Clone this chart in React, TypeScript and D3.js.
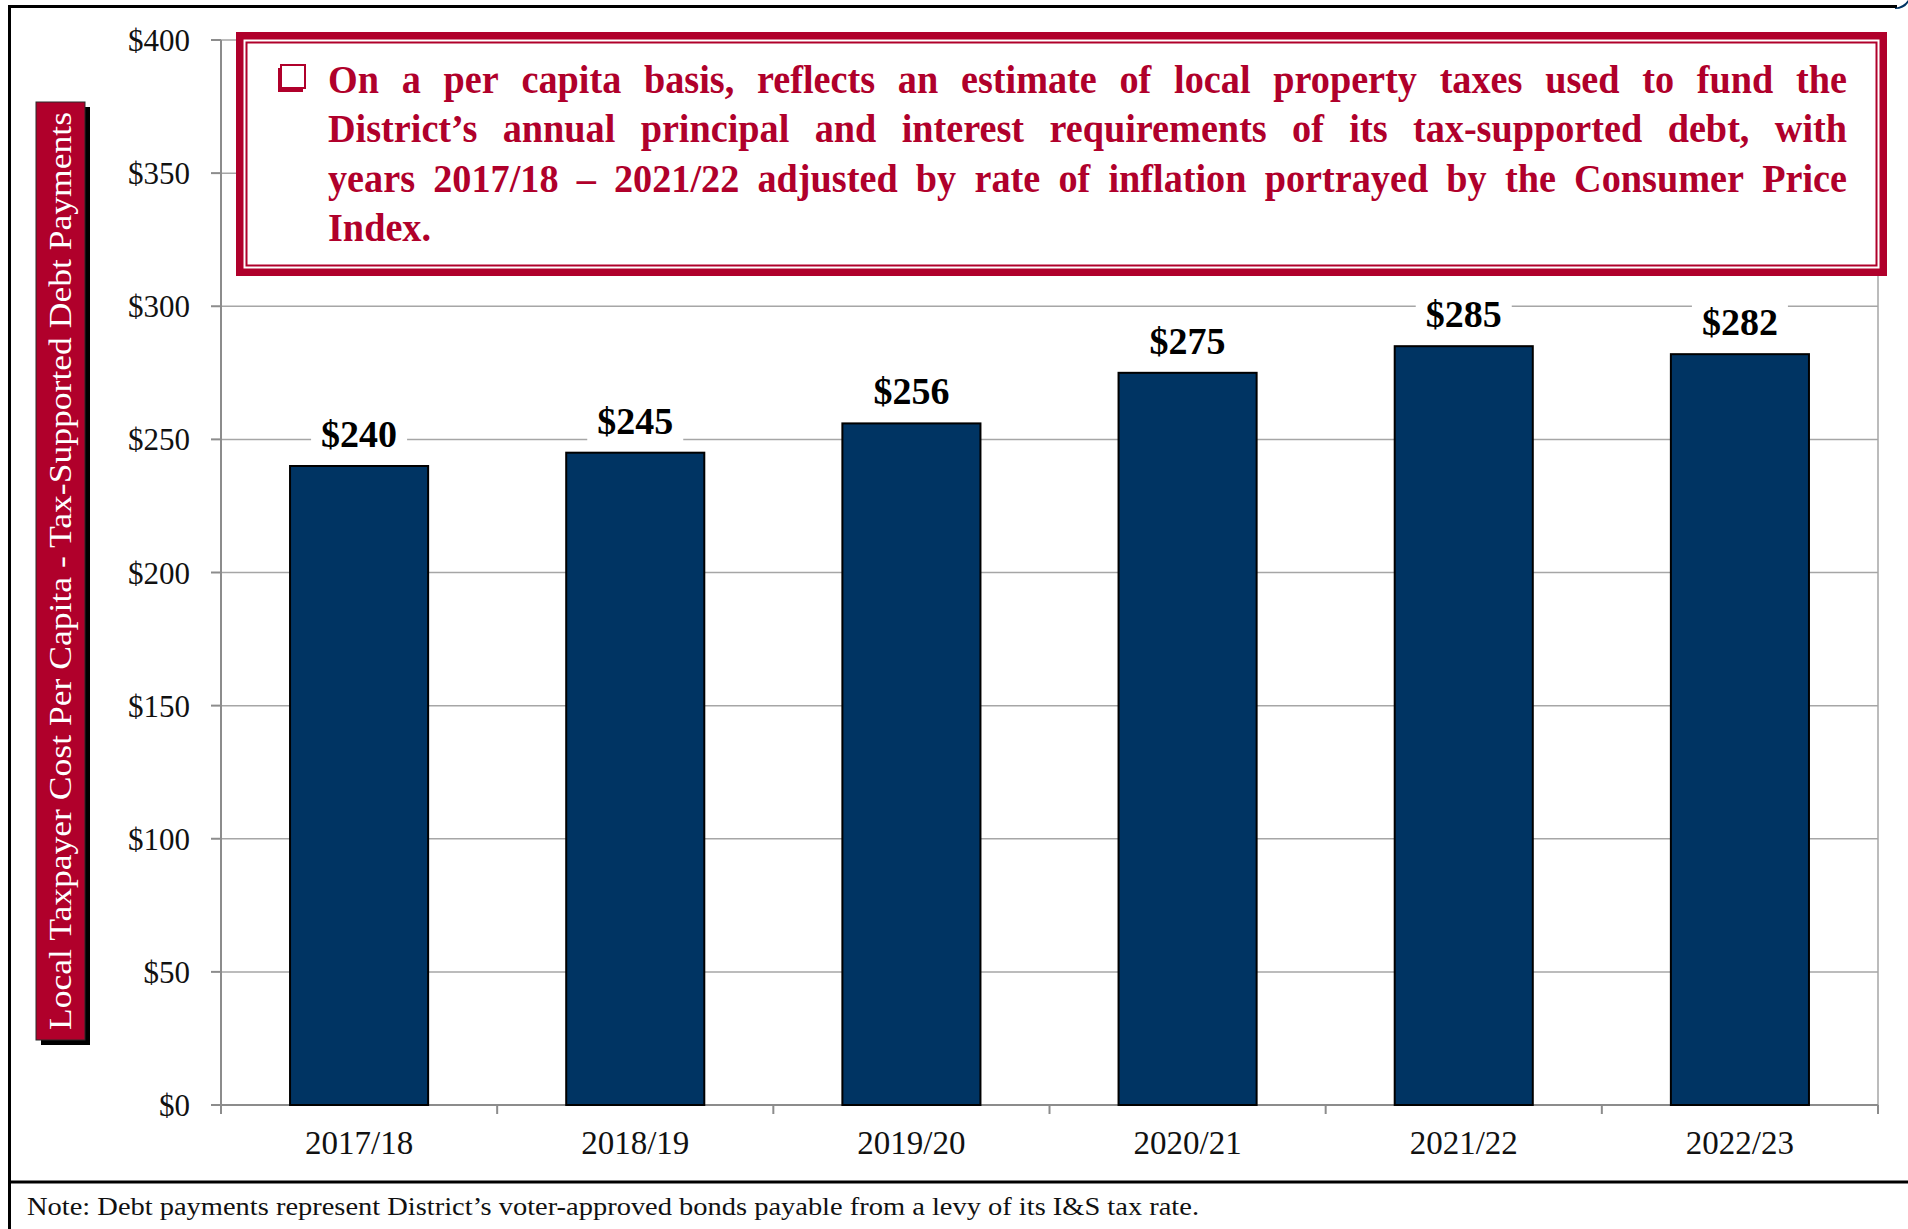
import React, { useMemo } from "react";
import * as d3 from "d3";

// chart values
const years = ["2017/18", "2018/19", "2019/20", "2020/21", "2021/22", "2022/23"];
const perCapita = [240, 245, 256, 275, 285, 282];
const yTicks = [0, 50, 100, 150, 200, 250, 300, 350, 400];

const noteLines = [
  "On a per capita basis, reflects an estimate of local property taxes used to fund the",
  "District\u2019s annual principal and interest requirements of its tax-supported debt, with",
  "years 2017/18 \u2013 2021/22 adjusted by rate of inflation portrayed by the Consumer Price",
  "Index.",
];
const yTitle = "Local Taxpayer Cost Per Capita - Tax-Supported Debt Payments";
const footNote =
  "Note: Debt payments represent District\u2019s voter-approved bonds payable from a levy of its I&S tax rate.";

const W = 1908;
const H = 1229;
const RED = "#B0002B";
const NAVY = "#003463";
const GRID = "#A6A6A6";
const SERIF = "'Liberation Serif', 'Times New Roman', serif";

// plot bounds
const left = 221, right = 1878, top = 40, bottom = 1105;

function measure(txt: string, font: string) {
  const ctx = document.createElement("canvas").getContext("2d");
  if (!ctx) return txt.length * 10;
  ctx.font = font;
  return ctx.measureText(txt).width;
}

export default function App() {
  const x = d3.scaleBand<string>()
    .domain(years)
    .range([left, right])
    .paddingInner(0.5)
    .paddingOuter(0.25);
  const y = d3.scaleLinear().domain([0, 400]).range([bottom, top]);
  const step = x.step();
  const bounds = d3.range(years.length + 1).map((i) => left + i * step);

  // justified text in the red box; glyphs squeezed slightly
  const textLeft = 328, textRight = 1847;
  const avail = textRight - textLeft;
  const fs = 39;
  const justified = useMemo(() => {
    const f = `bold ${fs}px ${SERIF}`;
    const natural = noteLines.slice(0, 3).map((ln) => {
      const ws = ln.split(" ");
      return d3.sum(ws, (w) => measure(w, f)) + (ws.length - 1) * fs * 0.3;
    });
    const k = Math.min(0.98, avail / (d3.max(natural) ?? avail));
    const rows = noteLines.map((ln, i) => {
      const ws = ln.split(" ");
      const widths = ws.map((w) => measure(w, f) * k);
      const last = i === noteLines.length - 1;
      const gap = last ? fs * 0.25 : (avail - d3.sum(widths)) / (ws.length - 1);
      let cx = textLeft;
      return ws.map((w, j) => {
        const pos = cx;
        cx += widths[j] + gap;
        return { w, pos, len: widths[j] };
      });
    });
    return rows;
  }, []);

  const baselines = [93, 142, 192, 241];

  return (
    <div style={{ position: "absolute", left: 0, top: 0 }}>
      <svg width={W} height={H} style={{ display: "block", background: "#fff" }}>
        {/* outer frame */}
        <line x1={9.5} x2={9.5} y1={5} y2={H} stroke="#000" strokeWidth={3} />
        <line x1={8} x2={1897} y1={6.5} y2={6.5} stroke="#000" strokeWidth={3} />
        <path d="M1895,8 Q1904,6 1908,0 L1908,3 Q1904,9 1895,9 Z" fill={NAVY} />
        <line x1={8} x2={W} y1={1182} y2={1182} stroke="#000" strokeWidth={3} />

        {/* gridlines */}
        {yTicks.map((t) => (
          <line key={"g" + t} x1={left} x2={right} y1={y(t)} y2={y(t)} stroke={GRID} strokeWidth={1.5} />
        ))}
        <line x1={right} x2={right} y1={top} y2={bottom + 9} stroke={GRID} strokeWidth={1.5} />

        {/* y axis */}
        <line x1={left} x2={left} y1={top} y2={bottom + 9} stroke="#8C8C8C" strokeWidth={2} />
        {yTicks.map((t) => (
          <g key={"t" + t}>
            <line x1={left - 10} x2={left} y1={y(t)} y2={y(t)} stroke="#8C8C8C" strokeWidth={2} />
            <text x={190} y={y(t) + 11} textAnchor="end" fontFamily={SERIF} fontSize={31} fill="#111">
              {"$" + t}
            </text>
          </g>
        ))}

        {/* x axis */}
        <line x1={left} x2={right} y1={bottom} y2={bottom} stroke="#8C8C8C" strokeWidth={2} />
        {bounds.map((b, i) => (
          <line key={"xt" + i} x1={b} x2={b} y1={bottom} y2={bottom + 9} stroke="#8C8C8C" strokeWidth={2} />
        ))}
        {years.map((c) => (
          <text key={"c" + c} x={(x(c) ?? 0) + x.bandwidth() / 2} y={1154} textAnchor="middle"
            fontFamily={SERIF} fontSize={33} fill="#111">
            {c}
          </text>
        ))}

        {/* bars */}
        {years.map((c, i) => (
          <rect key={"b" + c} x={x(c)} y={y(perCapita[i])} width={x.bandwidth()}
            height={y(0) - y(perCapita[i])} fill={NAVY} stroke="#000" strokeWidth={2} />
        ))}

        {/* value labels */}
        {years.map((c, i) => {
          const cx = (x(c) ?? 0) + x.bandwidth() / 2;
          const by = y(perCapita[i]) - 19;
          return (
            <g key={"l" + c}>
              <rect x={cx - 48} y={by - 33} width={96} height={41} fill="#fff" />
              <text x={cx} y={by} textAnchor="middle" fontFamily={SERIF} fontWeight="bold"
                fontSize={38} fill="#000">
                {"$" + perCapita[i]}
              </text>
            </g>
          );
        })}

        {/* red note box */}
        <rect x={239.75} y={35.75} width={1643.5} height={236.5} fill="#fff" stroke={RED} strokeWidth={7.5} />
        <rect x={246.5} y={42.5} width={1630} height={223} fill="none" stroke={RED} strokeWidth={2} />
        <rect x={278} y={68} width={25} height={24} fill={RED} />
        <rect x={281} y={65} width={24} height={23} fill="#fff" stroke={RED} strokeWidth={2} />
        {justified.map((row, i) =>
          row.map((wd, j) => (
            <text key={`n${i}-${j}`} x={wd.pos} y={baselines[i]} fontFamily={SERIF} fontWeight="bold"
              fontSize={fs} fill={RED} textLength={wd.len} lengthAdjust="spacingAndGlyphs">
              {wd.w}
            </text>
          ))
        )}

        {/* y title box */}
        <rect x={41} y={107} width={49} height={938} fill="#000" />
        <rect x={36} y={102} width={49} height={938} fill={RED} stroke="#2a2a2a" strokeWidth={1} />
        <text transform="translate(71,571) rotate(-90)" textAnchor="middle" fontFamily={SERIF}
          fontSize={32} fill="#fff" textLength={918} lengthAdjust="spacingAndGlyphs">
          {yTitle}
        </text>

        {/* footnote */}
        <text x={27} y={1215} fontFamily={SERIF} fontSize={26} fill="#111" textLength={1172}
          lengthAdjust="spacingAndGlyphs">
          {footNote}
        </text>
      </svg>
    </div>
  );
}
